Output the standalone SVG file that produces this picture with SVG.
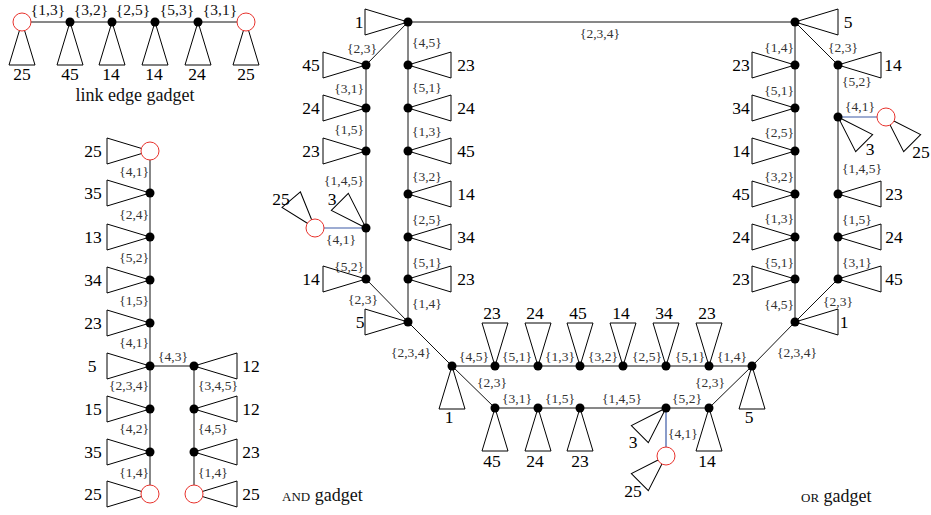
<svg xmlns="http://www.w3.org/2000/svg" xmlns:xlink="http://www.w3.org/1999/xlink" width="931" height="515" viewBox="0 0 931 515">
<style>
.e{fill:none;stroke:#111;stroke-width:1}
.b{fill:none;stroke:#3c5aa6;stroke-width:1.2}
.d{fill:#000}
.c{fill:#fff;stroke:#e8322c;stroke-width:1}
.n{font-family:"Liberation Serif",serif;font-size:17.5px;fill:#000;text-anchor:middle}
.l{font-family:"Liberation Serif",serif;font-size:13.5px;fill:#333;text-anchor:middle}
.ls{text-anchor:start}
.le{text-anchor:end}
.big{font-size:15.5px;fill:#111}
.cap{font-family:"Liberation Serif",serif;font-size:18px;fill:#111}
</style>
<defs>
<path id="T" d="M0,0L43,-13L43,13Z" fill="none" stroke="#000" stroke-width="1"/>
<path id="S" d="M0,0L37,-12L37,12Z" fill="none" stroke="#000" stroke-width="1"/>
</defs>
<rect width="931" height="515" fill="#fff"/>

<g id="connectors">
<path class="e" d="M22,22H246"/>
<path class="e" d="M150,151V494M150,366H194M194,366V494"/>
<path class="e" d="M408,22H795"/>
<path class="e" d="M408,22L366,65V279L408,322L452,366H752L795,322"/>
<path class="e" d="M408,22V322"/>
<path class="e" d="M795,22V322"/>
<path class="e" d="M795,22L838,65V279L795,322"/>
<path class="e" d="M452,366L495,408H709L752,366"/>
<path class="b" d="M366,228H315"/>
<path class="b" d="M838,117H886"/>
<path class="b" d="M666,408V456"/>
</g>

<g id="edge-labels">
<text class="l big" x="48" y="15">{1,3}</text>
<text class="l big" x="91" y="15">{3,2}</text>
<text class="l big" x="133" y="15">{2,5}</text>
<text class="l big" x="177" y="15">{5,3}</text>
<text class="l big" x="220" y="15">{3,1}</text>

<text class="l le" x="149" y="176">{4,1}</text>
<text class="l le" x="149" y="219">{2,4}</text>
<text class="l le" x="149" y="262">{5,2}</text>
<text class="l le" x="149" y="305">{1,5}</text>
<text class="l le" x="149" y="347">{4,1}</text>
<text class="l le" x="149" y="390">{2,3,4}</text>
<text class="l le" x="149" y="433">{4,2}</text>
<text class="l le" x="149" y="477">{1,4}</text>
<text class="l" x="173" y="361">{4,3}</text>
<text class="l ls" x="198" y="390">{3,4,5}</text>
<text class="l ls" x="198" y="433">{4,5}</text>
<text class="l ls" x="198" y="477">{1,4}</text>

<text class="l" x="600" y="38">{2,3,4}</text>
<text class="l" x="362" y="53">{2,3}</text>
<text class="l le" x="364" y="93">{3,1}</text>
<text class="l le" x="364" y="134">{1,5}</text>
<text class="l le" x="364" y="185">{1,4,5}</text>
<text class="l" x="341" y="244">{4,1}</text>
<text class="l le" x="364" y="271">{5,2}</text>
<text class="l" x="363" y="304">{2,3}</text>
<text class="l ls" x="412" y="47">{4,5}</text>
<text class="l ls" x="412" y="92">{5,1}</text>
<text class="l ls" x="412" y="136">{1,3}</text>
<text class="l ls" x="412" y="181">{3,2}</text>
<text class="l ls" x="412" y="224">{2,5}</text>
<text class="l ls" x="412" y="267">{5,1}</text>
<text class="l ls" x="412" y="308">{1,4}</text>
<text class="l le" x="794" y="52">{1,4}</text>
<text class="l le" x="794" y="95">{5,1}</text>
<text class="l le" x="794" y="137">{2,5}</text>
<text class="l le" x="794" y="181">{3,2}</text>
<text class="l le" x="794" y="223">{1,3}</text>
<text class="l le" x="794" y="267">{5,1}</text>
<text class="l le" x="794" y="309">{4,5}</text>
<text class="l" x="843" y="52">{2,3}</text>
<text class="l ls" x="842" y="86">{5,2}</text>
<text class="l" x="860" y="111">{4,1}</text>
<text class="l ls" x="842" y="173">{1,4,5}</text>
<text class="l ls" x="842" y="224">{1,5}</text>
<text class="l ls" x="842" y="267">{3,1}</text>
<text class="l" x="838" y="306">{2,3}</text>
<text class="l" x="411" y="357">{2,3,4}</text>
<text class="l" x="474" y="361">{4,5}</text>
<text class="l" x="517" y="361">{5,1}</text>
<text class="l" x="560" y="361">{1,3}</text>
<text class="l" x="603" y="361">{3,2}</text>
<text class="l" x="647" y="361">{2,5}</text>
<text class="l" x="690" y="361">{5,1}</text>
<text class="l" x="732" y="361">{1,4}</text>
<text class="l" x="797" y="357">{2,3,4}</text>
<text class="l" x="492" y="387">{2,3}</text>
<text class="l" x="517" y="403">{3,1}</text>
<text class="l" x="560" y="403">{1,5}</text>
<text class="l" x="622" y="403">{1,4,5}</text>
<text class="l" x="687" y="403">{5,2}</text>
<text class="l" x="710" y="387">{2,3}</text>
<text class="l ls" x="668" y="438">{4,1}</text>
</g>

<g id="link-gadget">
<g id="lg1"><use href="#T" transform="translate(22,22) rotate(90)"/><circle class="c" cx="22" cy="22" r="9"/><text class="n" x="22" y="80">25</text></g>
<g id="lg2"><use href="#T" transform="translate(70,22) rotate(90)"/><circle class="d" cx="70" cy="22" r="4.5"/><text class="n" x="70" y="80">45</text></g>
<g id="lg3"><use href="#T" transform="translate(112,22) rotate(90)"/><circle class="d" cx="112" cy="22" r="4.5"/><text class="n" x="111" y="80">14</text></g>
<g id="lg4"><use href="#T" transform="translate(155,22) rotate(90)"/><circle class="d" cx="155" cy="22" r="4.5"/><text class="n" x="154" y="80">14</text></g>
<g id="lg5"><use href="#T" transform="translate(198,22) rotate(90)"/><circle class="d" cx="198" cy="22" r="4.5"/><text class="n" x="197" y="80">24</text></g>
<g id="lg6"><use href="#T" transform="translate(246,22) rotate(90)"/><circle class="c" cx="246" cy="22" r="9"/><text class="n" x="246" y="80">25</text></g>
<text class="cap" x="135" y="101" text-anchor="middle">link edge gadget</text>
</g>

<g id="and-gadget">
<g id="a1"><use href="#T" transform="translate(150,151) rotate(180)"/><circle class="c" cx="150" cy="151" r="9"/><text class="n" x="93" y="157">25</text></g>
<g id="a2"><use href="#T" transform="translate(150,193) rotate(180)"/><circle class="d" cx="150" cy="193" r="4.5"/><text class="n" x="93" y="199">35</text></g>
<g id="a3"><use href="#T" transform="translate(150,237) rotate(180)"/><circle class="d" cx="150" cy="237" r="4.5"/><text class="n" x="93" y="243">13</text></g>
<g id="a4"><use href="#T" transform="translate(150,280) rotate(180)"/><circle class="d" cx="150" cy="280" r="4.5"/><text class="n" x="93" y="286">34</text></g>
<g id="a5"><use href="#T" transform="translate(150,323) rotate(180)"/><circle class="d" cx="150" cy="323" r="4.5"/><text class="n" x="93" y="329">23</text></g>
<g id="a6"><use href="#T" transform="translate(150,366) rotate(180)"/><circle class="d" cx="150" cy="366" r="4.5"/><text class="n" x="92" y="372">5</text></g>
<g id="a7"><use href="#T" transform="translate(150,409) rotate(180)"/><circle class="d" cx="150" cy="409" r="4.5"/><text class="n" x="93" y="415">15</text></g>
<g id="a8"><use href="#T" transform="translate(150,452) rotate(180)"/><circle class="d" cx="150" cy="452" r="4.5"/><text class="n" x="93" y="458">35</text></g>
<g id="a9"><use href="#T" transform="translate(150,494) rotate(180)"/><circle class="c" cx="150" cy="494" r="9"/><text class="n" x="93" y="500">25</text></g>
<g id="a10"><use href="#T" transform="translate(194,366)"/><circle class="d" cx="194" cy="366" r="4.5"/><text class="n" x="251" y="372">12</text></g>
<g id="a11"><use href="#T" transform="translate(194,409)"/><circle class="d" cx="194" cy="409" r="4.5"/><text class="n" x="251" y="415">12</text></g>
<g id="a12"><use href="#T" transform="translate(194,452)"/><circle class="d" cx="194" cy="452" r="4.5"/><text class="n" x="251" y="458">23</text></g>
<g id="a13"><use href="#T" transform="translate(194,494)"/><circle class="c" cx="194" cy="494" r="9"/><text class="n" x="251" y="500">25</text></g>
<text class="cap" x="282" y="501"><tspan font-size="13">AND</tspan> gadget</text>
</g>

<g id="or-gadget">
<g id="o-A"><use href="#T" transform="translate(408,22) rotate(180)"/><circle class="d" cx="408" cy="22" r="4.5"/><text class="n" x="359" y="28">1</text></g>
<g id="o-B"><use href="#T" transform="translate(795,22)"/><circle class="d" cx="795" cy="22" r="4.5"/><text class="n" x="848" y="28">5</text></g>
<g id="o-L1"><use href="#T" transform="translate(366,65) rotate(180)"/><circle class="d" cx="366" cy="65" r="4.5"/><text class="n" x="311" y="71">45</text></g>
<g id="o-L2"><use href="#T" transform="translate(366,108) rotate(180)"/><circle class="d" cx="366" cy="108" r="4.5"/><text class="n" x="311" y="114">24</text></g>
<g id="o-L3"><use href="#T" transform="translate(366,151) rotate(180)"/><circle class="d" cx="366" cy="151" r="4.5"/><text class="n" x="311" y="157">23</text></g>
<g id="o-L4"><use href="#S" transform="translate(366,228) rotate(-135)"/><circle class="d" cx="366" cy="228" r="4.5"/><text class="n" x="332" y="205">3</text></g>
<g id="o-L4c"><use href="#S" transform="translate(315,228) rotate(-130)"/><circle class="c" cx="315" cy="228" r="9"/><text class="n" x="281" y="205">25</text></g>
<g id="o-L5"><use href="#T" transform="translate(366,279) rotate(180)"/><circle class="d" cx="366" cy="279" r="4.5"/><text class="n" x="311" y="285">14</text></g>
<g id="o-I1"><use href="#T" transform="translate(408,65)"/><circle class="d" cx="408" cy="65" r="4.5"/><text class="n" x="466" y="71">23</text></g>
<g id="o-I2"><use href="#T" transform="translate(408,108)"/><circle class="d" cx="408" cy="108" r="4.5"/><text class="n" x="466" y="114">24</text></g>
<g id="o-I3"><use href="#T" transform="translate(408,151)"/><circle class="d" cx="408" cy="151" r="4.5"/><text class="n" x="466" y="157">45</text></g>
<g id="o-I4"><use href="#T" transform="translate(408,194)"/><circle class="d" cx="408" cy="194" r="4.5"/><text class="n" x="466" y="200">14</text></g>
<g id="o-I5"><use href="#T" transform="translate(408,237)"/><circle class="d" cx="408" cy="237" r="4.5"/><text class="n" x="466" y="243">34</text></g>
<g id="o-I6"><use href="#T" transform="translate(408,279)"/><circle class="d" cx="408" cy="279" r="4.5"/><text class="n" x="466" y="285">23</text></g>
<g id="o-N5"><use href="#T" transform="translate(408,322) rotate(180)"/><circle class="d" cx="408" cy="322" r="4.5"/><text class="n" x="360" y="328">5</text></g>
<g id="o-J1"><use href="#T" transform="translate(795,65) rotate(180)"/><circle class="d" cx="795" cy="65" r="4.5"/><text class="n" x="741" y="71">23</text></g>
<g id="o-J2"><use href="#T" transform="translate(795,108) rotate(180)"/><circle class="d" cx="795" cy="108" r="4.5"/><text class="n" x="741" y="114">34</text></g>
<g id="o-J3"><use href="#T" transform="translate(795,151) rotate(180)"/><circle class="d" cx="795" cy="151" r="4.5"/><text class="n" x="741" y="157">14</text></g>
<g id="o-J4"><use href="#T" transform="translate(795,194) rotate(180)"/><circle class="d" cx="795" cy="194" r="4.5"/><text class="n" x="741" y="200">45</text></g>
<g id="o-J5"><use href="#T" transform="translate(795,237) rotate(180)"/><circle class="d" cx="795" cy="237" r="4.5"/><text class="n" x="741" y="243">24</text></g>
<g id="o-J6"><use href="#T" transform="translate(795,279) rotate(180)"/><circle class="d" cx="795" cy="279" r="4.5"/><text class="n" x="741" y="285">23</text></g>
<g id="o-N1"><use href="#T" transform="translate(795,322)"/><circle class="d" cx="795" cy="322" r="4.5"/><text class="n" x="844" y="328">1</text></g>
<g id="o-R1"><use href="#T" transform="translate(838,65)"/><circle class="d" cx="838" cy="65" r="4.5"/><text class="n" x="893" y="71">14</text></g>
<g id="o-R2"><use href="#S" transform="translate(838,117) rotate(45)"/><circle class="d" cx="838" cy="117" r="4.5"/><text class="n" x="870" y="155">3</text></g>
<g id="o-R2c"><use href="#S" transform="translate(886,117) rotate(45)"/><circle class="c" cx="886" cy="117" r="9"/><text class="n" x="921" y="158">25</text></g>
<g id="o-R3"><use href="#T" transform="translate(838,194)"/><circle class="d" cx="838" cy="194" r="4.5"/><text class="n" x="894" y="200">23</text></g>
<g id="o-R4"><use href="#T" transform="translate(838,237)"/><circle class="d" cx="838" cy="237" r="4.5"/><text class="n" x="894" y="243">24</text></g>
<g id="o-R5"><use href="#T" transform="translate(838,279)"/><circle class="d" cx="838" cy="279" r="4.5"/><text class="n" x="894" y="285">45</text></g>
<g id="o-P1"><use href="#T" transform="translate(452,366) rotate(90)"/><circle class="d" cx="452" cy="366" r="4.5"/><text class="n" x="449" y="423">1</text></g>
<g id="o-T1"><use href="#T" transform="translate(495,366) rotate(-90)"/><circle class="d" cx="495" cy="366" r="4.5"/><text class="n" x="492" y="319">23</text></g>
<g id="o-T2"><use href="#T" transform="translate(538,366) rotate(-90)"/><circle class="d" cx="538" cy="366" r="4.5"/><text class="n" x="535" y="319">24</text></g>
<g id="o-T3"><use href="#T" transform="translate(580,366) rotate(-90)"/><circle class="d" cx="580" cy="366" r="4.5"/><text class="n" x="578" y="319">45</text></g>
<g id="o-T4"><use href="#T" transform="translate(623,366) rotate(-90)"/><circle class="d" cx="623" cy="366" r="4.5"/><text class="n" x="621" y="319">14</text></g>
<g id="o-T5"><use href="#T" transform="translate(666,366) rotate(-90)"/><circle class="d" cx="666" cy="366" r="4.5"/><text class="n" x="664" y="319">34</text></g>
<g id="o-T6"><use href="#T" transform="translate(709,366) rotate(-90)"/><circle class="d" cx="709" cy="366" r="4.5"/><text class="n" x="707" y="319">23</text></g>
<g id="o-P5"><use href="#T" transform="translate(752,366) rotate(90)"/><circle class="d" cx="752" cy="366" r="4.5"/><text class="n" x="749" y="423">5</text></g>
<g id="o-B1"><use href="#T" transform="translate(495,408) rotate(90)"/><circle class="d" cx="495" cy="408" r="4.5"/><text class="n" x="492" y="467">45</text></g>
<g id="o-B2"><use href="#T" transform="translate(538,408) rotate(90)"/><circle class="d" cx="538" cy="408" r="4.5"/><text class="n" x="535" y="467">24</text></g>
<g id="o-B3"><use href="#T" transform="translate(580,408) rotate(90)"/><circle class="d" cx="580" cy="408" r="4.5"/><text class="n" x="580" y="467">23</text></g>
<g id="o-B4"><use href="#S" transform="translate(666,408) rotate(135)"/><circle class="d" cx="666" cy="408" r="4.5"/><text class="n" x="633" y="448">3</text></g>
<g id="o-B4c"><use href="#S" transform="translate(666,456) rotate(135)"/><circle class="c" cx="666" cy="456" r="9"/><text class="n" x="633" y="497">25</text></g>
<g id="o-B5"><use href="#T" transform="translate(709,408) rotate(90)"/><circle class="d" cx="709" cy="408" r="4.5"/><text class="n" x="707" y="467">14</text></g>
<text class="cap" x="801" y="502"><tspan font-size="13">OR</tspan> gadget</text>
</g>
</svg>
